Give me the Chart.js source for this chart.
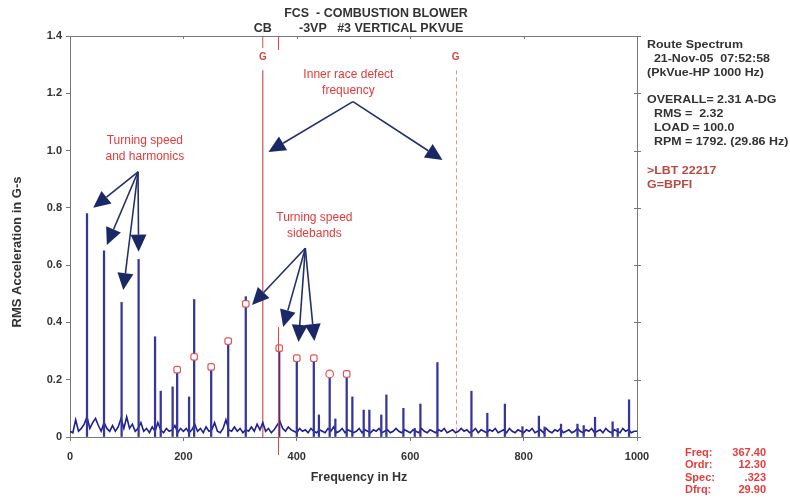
<!DOCTYPE html>
<html>
<head>
<meta charset="utf-8">
<script src="https://cdn.jsdelivr.net/npm/chart.js@4"></script>
<style>
  body { margin: 0; background: #fff; }
  canvas { display: block; }
</style>
</head>
<body>
<canvas id="spectrum" width="790" height="501"></canvas>
<script>
// spectrum peaks (Hz / G-s)
const peakHz  = [30, 60, 91, 121, 150, 160, 181, 189, 210, 219, 249, 279, 310, 369, 400, 430, 439, 458, 468, 488,
                 498, 518, 528, 549, 558, 588, 608, 618, 648, 708, 736, 767, 798, 827, 837, 866, 895, 906, 926, 957, 966, 986];
const peakAmp = [0.78, 0.65, 0.47, 0.62, 0.35, 0.16, 0.175, 0.235, 0.14, 0.48, 0.245, 0.335, 0.49, 0.32, 0.28, 0.28, 0.077, 0.22, 0.063, 0.22,
                 0.14, 0.094, 0.094, 0.077, 0.147, 0.10, 0.03, 0.115, 0.26, 0.16, 0.083, 0.115, 0.036, 0.073, 0.035, 0.045, 0.045, 0.04, 0.069, 0.053, 0.03, 0.13];

// noise floor, every 5 Hz from 0 to 1000
const noiseStep = 5;
const noiseAmp = [
  0.02, 0.015, 0.06, 0.02, 0.03, 0.045, 0.07, 0.03, 0.05, 0.065, 0.04, 0.02, 0.05, 0.03, 0.02, 0.04, 0.02, 0.035, 0.065, 0.03,
  0.07, 0.03, 0.045, 0.02, 0.03, 0.05, 0.02, 0.03, 0.015, 0.035, 0.02, 0.05, 0.025, 0.015, 0.03, 0.02, 0.025, 0.04, 0.015, 0.03,
  0.02, 0.03, 0.015, 0.025, 0.045, 0.02, 0.03, 0.015, 0.035, 0.02, 0.025, 0.05, 0.02, 0.015, 0.03, 0.06, 0.025, 0.02, 0.035, 0.02,
  0.03, 0.015, 0.025, 0.02, 0.035, 0.02, 0.045, 0.025, 0.05, 0.02, 0.03, 0.015, 0.025, 0.04, 0.055, 0.03, 0.02, 0.035, 0.025, 0.02,
  0.015, 0.03, 0.02, 0.025, 0.015, 0.03, 0.02, 0.015, 0.025, 0.02, 0.015, 0.03, 0.02, 0.035, 0.015, 0.02, 0.03, 0.015, 0.025, 0.02,
  0.015, 0.02, 0.03, 0.015, 0.025, 0.02, 0.015, 0.025, 0.02, 0.03, 0.015, 0.02, 0.025, 0.015, 0.02, 0.03, 0.02, 0.015, 0.025, 0.02,
  0.015, 0.025, 0.02, 0.015, 0.03, 0.02, 0.015, 0.025, 0.02, 0.015, 0.025, 0.02, 0.03, 0.015, 0.02, 0.025, 0.015, 0.02, 0.03, 0.02,
  0.025, 0.015, 0.02, 0.03, 0.015, 0.025, 0.02, 0.015, 0.025, 0.02, 0.03, 0.015, 0.02, 0.025, 0.015, 0.03, 0.02, 0.015, 0.025, 0.02,
  0.015, 0.025, 0.02, 0.03, 0.015, 0.02, 0.025, 0.015, 0.03, 0.02, 0.015, 0.025, 0.02, 0.03, 0.015, 0.02, 0.025, 0.015, 0.02, 0.03,
  0.02, 0.015, 0.025, 0.02, 0.03, 0.015, 0.02, 0.025, 0.015, 0.03, 0.02, 0.015, 0.025, 0.02, 0.015, 0.03, 0.02, 0.025, 0.015, 0.02, 0.02
];

// red sideband markers
const markHz  = [189, 219, 249, 279, 310, 369, 400, 430, 458, 488];
const markAmp = [0.235, 0.28, 0.245, 0.335, 0.465, 0.31, 0.275, 0.275, 0.22, 0.22];

// fault frequencies
const bpfiHz = 340;
const bpfi2Hz = 680;
const cursorHz = 367.4;

const yTicks = [0, 0.2, 0.4, 0.6, 0.8, 1.0, 1.2, 1.4];
const xTicks = [0, 200, 400, 600, 800, 1000];

const panelLines = ["Route Spectrum", "  21-Nov-05  07:52:58", "(PkVue-HP 1000 Hz)", "",
  "OVERALL= 2.31 A-DG", "  RMS =  2.32", "  LOAD = 100.0", "  RPM = 1792. (29.86 Hz)"];
const panelRed = [">LBT 22217", "G=BPFI"];
const cursorLabels = ["Freq:", "Ordr:", "Spec:", "Dfrq:"];
const cursorValues = ["367.40", "12.30", ".323", "29.90"];

// callouts, in Hz / G-s
const callouts = [
  { text: ["Turning speed", "and harmonics"], at: [132, 1.035], from: [120, 0.926],
    to: [[41, 0.80], [65, 0.67], [94, 0.513], [121, 0.647]] },
  { text: ["Inner race defect", "frequency"], at: [491, 1.265], from: [499, 1.171],
    to: [[350, 0.995], [657, 0.967]] },
  { text: ["Turning speed", "sidebands"], at: [431, 0.765], from: [415, 0.659],
    to: [[321, 0.461], [376, 0.384], [403, 0.332], [431, 0.335]] }
];

const FONT = '"Liberation Sans", Arial, sans-serif';
Chart.defaults.font.family = FONT;

const peaks = peakHz.map((f, i) => ({ x: f, y: peakAmp[i] }));
const noise = noiseAmp.map((v, i) => ({ x: i * noiseStep, y: v }));
const marks = markHz.map((f, i) => ({ x: f, y: markAmp[i] }));

// the scanned lettering is a little wider than Liberation Sans
function wideText(ctx, s, x, y, sx) {
  ctx.save();
  ctx.translate(x, y);
  ctx.scale(sx, 1);
  ctx.fillText(s, 0, 0);
  ctx.restore();
}

function arrow(ctx, x0, y0, x1, y1) {
  const a = Math.atan2(y1 - y0, x1 - x0);
  const len = 17, half = 8;
  const bx = x1 - len * Math.cos(a), by = y1 - len * Math.sin(a);
  ctx.beginPath();
  ctx.moveTo(x0, y0);
  ctx.lineTo(bx, by);
  ctx.stroke();
  ctx.beginPath();
  ctx.moveTo(x1, y1);
  ctx.lineTo(bx + half * Math.sin(a), by - half * Math.cos(a));
  ctx.lineTo(bx - half * Math.sin(a), by + half * Math.cos(a));
  ctx.closePath();
  ctx.fill();
}

const decor = {
  id: 'decor',
  beforeDatasetsDraw(chart) {
    const { ctx, chartArea: a, scales: { x, y } } = chart;
    ctx.save();
    ctx.lineWidth = 1.2;
    // bpfi line
    let px = x.getPixelForValue(bpfiHz);
    ctx.strokeStyle = '#d25050';
    ctx.beginPath(); ctx.moveTo(px, y.getPixelForValue(1.28)); ctx.lineTo(px, a.bottom); ctx.stroke();
    // 2x bpfi dashed
    px = Math.round(x.getPixelForValue(bpfi2Hz)) + 0.5;
    ctx.lineWidth = 1;
    ctx.strokeStyle = '#e39090';
    ctx.setLineDash([4, 3]);
    ctx.beginPath(); ctx.moveTo(px, y.getPixelForValue(1.28)); ctx.lineTo(px, a.bottom); ctx.stroke();
    ctx.setLineDash([]);
    ctx.restore();
  },
  afterDraw(chart) {
    const { ctx, chartArea: a, scales: { x, y } } = chart;
    ctx.save();
    // frame top / right with ticks
    ctx.strokeStyle = '#777';
    ctx.lineWidth = 1;
    ctx.beginPath();
    ctx.moveTo(a.left, a.top + 0.5); ctx.lineTo(a.right + 0.5, a.top + 0.5); ctx.lineTo(a.right + 0.5, a.bottom);
    xTicks.forEach(t => { const p = Math.round(x.getPixelForValue(t)) + 0.5; ctx.moveTo(p, a.top); ctx.lineTo(p, a.top + 3); });
    yTicks.forEach(t => { const p = Math.round(y.getPixelForValue(t)) + 0.5; ctx.moveTo(a.right - 3, p); ctx.lineTo(a.right + 4, p); });
    ctx.stroke();

    // cursor
    const cx = Math.round(x.getPixelForValue(cursorHz)) + 0.5;
    ctx.strokeStyle = '#e04848';
    ctx.beginPath();
    ctx.moveTo(cx, a.top); ctx.lineTo(cx, a.top + 14);
    ctx.moveTo(cx, y.getPixelForValue(0.384)); ctx.lineTo(cx, a.bottom + 18);
    ctx.stroke();
    const bx = x.getPixelForValue(bpfiHz);
    ctx.strokeStyle = '#d25050';
    ctx.beginPath(); ctx.moveTo(bx, a.top); ctx.lineTo(bx, a.top + 12); ctx.stroke();

    // G labels
    ctx.fillStyle = '#c84a4a';
    ctx.font = 'bold 10px ' + FONT;
    ctx.textAlign = 'center';
    ctx.textBaseline = 'middle';
    ctx.fillText('G', x.getPixelForValue(bpfiHz), 57);
    ctx.fillText('G', x.getPixelForValue(bpfi2Hz), 57);

    // titles
    ctx.fillStyle = '#333';
    ctx.font = 'bold 12px ' + FONT;
    wideText(ctx, 'FCS  - COMBUSTION BLOWER', 376, 14, 1.04);
    wideText(ctx, 'CB', x.getPixelForValue(bpfiHz), 29, 1.04);
    ctx.textAlign = 'left';
    wideText(ctx, '-3VP   #3 VERTICAL PKVUE', 299, 29, 1.04);
    ctx.textAlign = 'center';
    ctx.font = 'bold 12.5px ' + FONT;
    ctx.fillText('Frequency in Hz', 359, 478);
    ctx.save();
    ctx.translate(17, 252);
    ctx.rotate(-Math.PI / 2);
    ctx.font = 'bold 13px ' + FONT;
    ctx.fillText('RMS Acceleration in G-s', 0, 0);
    ctx.restore();

    // info panel
    ctx.textAlign = 'left';
    ctx.font = 'bold 11px ' + FONT;
    panelLines.forEach((s, i) => wideText(ctx, s, 647, 45 + i * 13.8, 1.13));
    ctx.fillStyle = '#b84a44';
    panelRed.forEach((s, i) => wideText(ctx, s, 647, 171 + i * 14, 1.13));

    // cursor readout
    ctx.fillStyle = '#e63c3c';
    ctx.font = 'bold 11px ' + FONT;
    cursorLabels.forEach((s, i) => {
      ctx.textAlign = 'left';
      ctx.fillText(s, 685, 453 + i * 12.3);
      ctx.textAlign = 'right';
      ctx.fillText(cursorValues[i], 766, 453 + i * 12.3);
    });

    // callouts
    ctx.strokeStyle = '#23306a';
    ctx.fillStyle = '#1b2866';
    ctx.lineWidth = 1.6;
    callouts.forEach(c => {
      const fx = x.getPixelForValue(c.from[0]), fy = y.getPixelForValue(c.from[1]);
      c.to.forEach(t => arrow(ctx, fx, fy, x.getPixelForValue(t[0]), y.getPixelForValue(t[1])));
    });
    ctx.fillStyle = '#e23a3a';
    ctx.font = '12px ' + FONT;
    ctx.textAlign = 'center';
    callouts.forEach(c => {
      const tx = x.getPixelForValue(c.at[0]), ty = y.getPixelForValue(c.at[1]);
      c.text.forEach((s, i) => ctx.fillText(s, tx, ty + i * 16));
    });
    ctx.restore();
  }
};

new Chart(document.getElementById('spectrum').getContext('2d'), {
  type: 'bar',
  data: {
    datasets: [
      {
        type: 'line', data: marks, showLine: false, order: 0,
        pointStyle: markHz.map(f => f === 458 ? 'circle' : 'rectRounded'),
        pointRadius: 3.8, borderColor: '#e25555', backgroundColor: '#fff', borderWidth: 1.2
      },
      { type: 'bar', data: peaks, order: 1, backgroundColor: '#35359c', barThickness: 1.6 },
      { type: 'line', data: noise, order: 2, borderColor: '#1f1f92', borderWidth: 1.6, pointRadius: 0, tension: 0 }
    ]
  },
  options: {
    responsive: false,
    animation: false,
    layout: { padding: { left: 10, right: 153, top: 36, bottom: 24 } },
    plugins: { legend: { display: false }, tooltip: { enabled: false } },
    scales: {
      x: {
        type: 'linear', min: 0, max: 1000, offset: false,
        afterFit(s) { s.height = 40; },
        afterBuildTicks(s) { s.ticks = xTicks.map(v => ({ value: v })); },
        ticks: { color: '#333', font: { size: 11, weight: 'bold' }, padding: 9, maxRotation: 0, callback: v => String(v) },
        grid: { drawOnChartArea: false, color: '#777', tickLength: 4, offset: false },
        border: { color: '#777' }
      },
      y: {
        min: 0, max: 1.4,
        afterFit(s) { s.width = 60; },
        afterBuildTicks(s) { s.ticks = yTicks.map(v => ({ value: v })); },
        ticks: { color: '#333', font: { size: 11, weight: 'bold' }, padding: 4, callback: v => v === 0 ? '0' : v.toFixed(1) },
        grid: { drawOnChartArea: false, color: '#777', tickLength: 4 },
        border: { color: '#777' }
      }
    }
  },
  plugins: [decor]
});
</script>
</body>
</html>
